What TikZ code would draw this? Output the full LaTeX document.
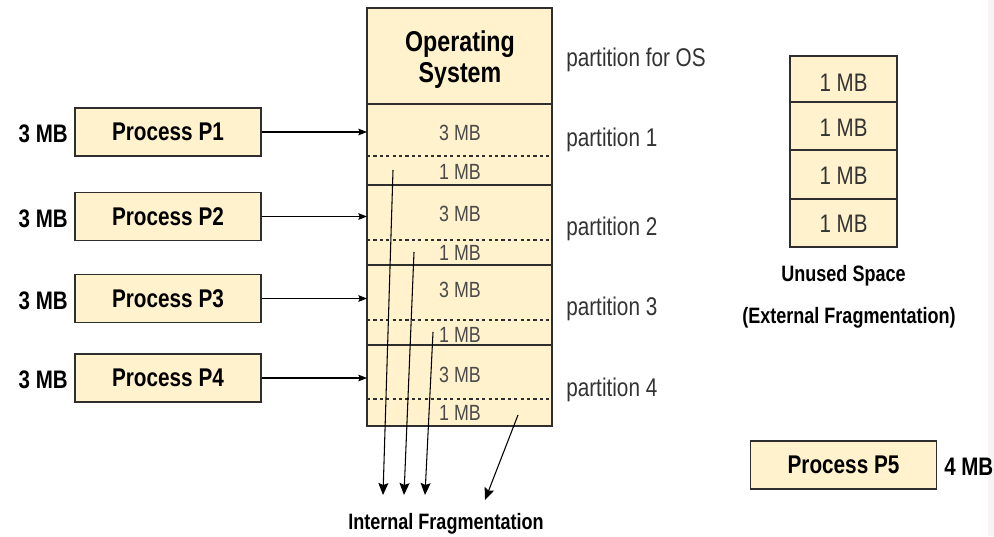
\documentclass[tikz,border=0pt]{standalone}
\usepackage{fontspec}
\setmainfont[FakeStretch=0.81]{Liberation Sans}
\usetikzlibrary{arrows.meta}
\definecolor{cellfill}{HTML}{FFF2CC}
\definecolor{edge}{HTML}{2E2E2E}
\definecolor{memtext}{HTML}{4A4A4A}
\definecolor{freetext}{HTML}{333333}
\definecolor{sidestrip}{HTML}{F8F4F4}
\tikzset{
  cell/.style={draw=edge, fill=cellfill, line width=1pt},
  split/.style={draw=edge, line width=0.9pt, dash pattern=on 2.4pt off 2.4pt},
  proc/.style={cell, minimum width=139.5pt, minimum height=36pt, inner sep=0pt,
               font=\fontsize{19.2}{20}\selectfont\bfseries},
  size/.style={font=\fontsize{19}{20}\selectfont\bfseries, inner sep=0pt},
  memlabel/.style={text=memtext, font=\fontsize{16.5}{18}\selectfont, inner sep=0pt},
  freelabel/.style={text=freetext, font=\fontsize{19}{20}\selectfont, inner sep=0pt},
  partlabel/.style={anchor=west, text=black!80, font=\fontsize{19.2}{20}\selectfont, inner sep=0pt},
  caption/.style={font=\fontsize{16.7}{18}\selectfont\bfseries, inner sep=0pt},
  load/.style={-{Stealth[length=6.5pt, width=5pt, inset=1pt]}, line width=0.8pt, black},
  frag/.style={-{Stealth[length=9pt, width=7.5pt, inset=1.5pt]}, line width=0.8pt, black}
}
\begin{document}
\begin{tikzpicture}[x=0.75pt, y=-0.75pt]
\useasboundingbox (0,0) rectangle (994,536);
\fill[white] (0,0) rectangle (994,536);
\fill[sidestrip] (988,0) rectangle (994,536);

% ---- main memory column ----
\path[cell] (367,8) rectangle (552,104);
\path[cell] (367,104) rectangle (552,185);
\path[cell] (367,185) rectangle (552,265);
\path[cell] (367,265) rectangle (552,345);
\path[cell] (367,345) rectangle (552,426);
\draw[split] (367,156) -- (552,156);
\draw[split] (367,240) -- (552,240);
\draw[split] (367,320) -- (552,320);
\draw[split] (367,399) -- (552,399);
\coordinate (memleft) at (367,0);

\node[align=center, font=\fontsize{21.5}{23.25}\selectfont\bfseries, inner sep=0pt] (os) at (460,59.5) {Operating\\System};

\node[memlabel] (m1a) at (460,132.5) {3 MB};
\node[memlabel] (m1b) at (460,171.5) {1 MB};
\node[memlabel] (m2a) at (460,213.5) {3 MB};
\node[memlabel] (m2b) at (460,252.5) {1 MB};
\node[memlabel] (m3a) at (460,289.5) {3 MB};
\node[memlabel] (m3b) at (460,334.5) {1 MB};
\node[memlabel] (m4a) at (460,374.5) {3 MB};
\node[memlabel] (m4b) at (460,412.5) {1 MB};

\node[partlabel] (pos) at (566,60) {partition for OS};
\node[partlabel] (pt1) at (566,140) {partition 1};
\node[partlabel] (pt2) at (566,229) {partition 2};
\node[partlabel] (pt3) at (566,309) {partition 3};
\node[partlabel] (pt4) at (566,390) {partition 4};

% ---- incoming processes ----
\node[proc] (p1) at (168,132) {\raisebox{-1.5pt}{Process P1}};
\node[proc] (p2) at (168,216.5) {\raisebox{-1.5pt}{Process P2}};
\node[proc] (p3) at (168,298.5) {\raisebox{-1.5pt}{Process P3}};
\node[proc] (p4) at (168,378) {\raisebox{-1.5pt}{Process P4}};

\node[size, anchor=east] (s1) at (68,134) {3 MB};
\node[size, anchor=east] (s2) at (68,218.5) {3 MB};
\node[size, anchor=east] (s3) at (68,300.5) {3 MB};
\node[size, anchor=east] (s4) at (68,380) {3 MB};

\draw[load] (p1.east) -- (p1.east -| memleft);
\draw[load] (p2.east) -- (p2.east -| memleft);
\draw[load] (p3.east) -- (p3.east -| memleft);
\draw[load] (p4.east) -- (p4.east -| memleft);

% ---- internal fragmentation ----
\coordinate (f1s) at (393,170);  \coordinate (f1e) at (383,495);
\coordinate (f2s) at (414,252);  \coordinate (f2e) at (404,495);
\coordinate (f3s) at (433,332);  \coordinate (f3e) at (425,495);
\coordinate (f4s) at (518,415);  \coordinate (f4e) at (485,500);
\draw[frag] (f1s) -- (f1e);
\draw[frag] (f2s) -- (f2e);
\draw[frag] (f3s) -- (f3e);
\draw[frag] (f4s) -- (f4e);
\node[caption] (intfrag) at (446,524) {Internal Fragmentation};

% ---- free holes ----
\path[cell] (790,56) rectangle (897,102);
\path[cell] (790,102) rectangle (897,150);
\path[cell] (790,150) rectangle (897,199);
\path[cell] (790,199) rectangle (897,247);
\node[freelabel] (h1) at (843.5,83) {1 MB};
\node[freelabel] (h2) at (843.5,128) {1 MB};
\node[freelabel] (h3) at (843.5,176) {1 MB};
\node[freelabel] (h4) at (843.5,224) {1 MB};
\node[caption] (unused) at (843.5,276) {Unused Space};
\node[caption] (extfrag) at (849,318) {(External Fragmentation)};

% ---- waiting process ----
\node[proc] (p5) at (843.5,465) {\raisebox{-1.5pt}{Process P5}};
\node[size, anchor=west] (s5) at (944,467) {4 MB};
\end{tikzpicture}
\end{document}
